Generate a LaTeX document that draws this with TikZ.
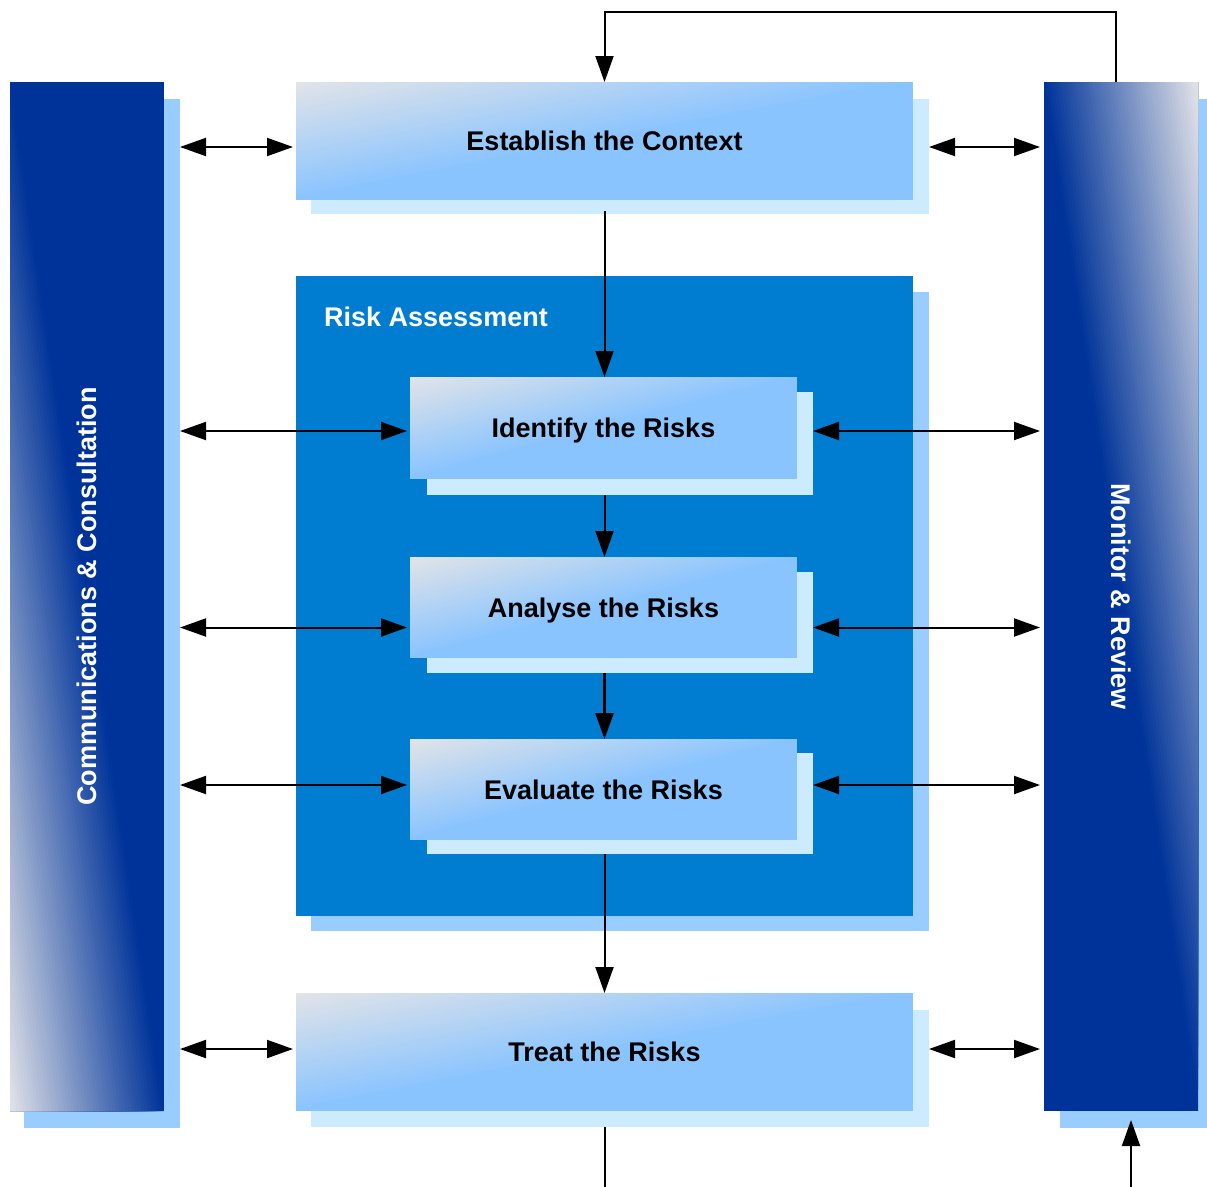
\documentclass[tikz,border=0pt]{standalone}
\usepackage{fontspec}
\setmainfont{Liberation Sans}
\usetikzlibrary{arrows.meta,calc}
\definecolor{navy}{HTML}{003399}
\definecolor{collight}{HTML}{E1E3E8}
\definecolor{boxlight}{HTML}{E2E4E8}
\definecolor{boxblue}{HTML}{89C4FF}
\definecolor{shadowpale}{HTML}{CCEBFF}
\definecolor{shadowblue}{HTML}{99CCFF}
\definecolor{rablue}{HTML}{007CD0}
\newcommand{\lblfont}{\fontsize{27}{32}\selectfont\bfseries}
% nested triangles from a light corner: #1,#2 corner; #3,#4 signed edge lengths; #5 light; #6 end colour
\newcommand{\gradcorner}[6]{%
  \foreach \k in {48,47,...,1}{%
    \pgfmathsetmacro{\gradT}{\k/48}%
    \pgfmathsetmacro{\gradP}{100*(\k-0.5)/48}%
    \fill[#6!\gradP!#5] (#1,#2) -- ++({\gradT*(#3)},0) -- ({#1},{#2+\gradT*(#4)}) -- cycle;
  }}
% gradient box: name, x0, ytop, W, H, text
\newcommand{\gbox}[6]{%
  \node[plainbox, minimum width=#4pt, minimum height=#5pt, fill=boxblue] (#1) at (#2,#3) {};
  \gradcorner{#2}{#3}{#4}{-#5}{boxlight}{boxblue}
  \node[font=\lblfont, text=black, inner sep=0pt, anchor=base] (#1-label) at ([yshift=-9.7pt]#1.center) {#6};
}
\begin{document}
\begin{tikzpicture}[x=1pt,y=1pt,
  >={Triangle[length=26pt,width=18pt]},
  conn/.style={line width=2pt, draw=black},
  plainbox/.style={rectangle, inner sep=0pt, outer sep=0pt, anchor=north west},
  shadowbox/.style 2 args={plainbox, minimum width=#1pt, minimum height=#2pt},
  coltext/.style={font=\lblfont, text=white, inner sep=0pt}
]
\useasboundingbox (0,0) rectangle (1207,-1186);

% Risk assessment container
\node[shadowbox={618}{639}, fill=shadowblue] (rash) at (311,-292) {};
\node[shadowbox={617}{640}, fill=rablue] (ra) at (296,-276) {};
\node[anchor=base west, font=\lblfont, text=white, inner sep=0pt] (ratext) at (324,-326) {Risk Assessment};

% inner boxes
\node[shadowbox={386}{103}, fill=shadowpale] (idsh) at (427,-392) {};
\gbox{id}{410}{-377}{387}{102}{Identify the Risks}
\node[shadowbox={386}{101}, fill=shadowpale] (ansh) at (427,-572) {};
\gbox{an}{410}{-557}{387}{101}{Analyse the Risks}
\node[shadowbox={386}{101}, fill=shadowpale] (evsh) at (427,-753) {};
\gbox{ev}{410}{-739}{387}{101}{Evaluate the Risks}

% big boxes
\node[shadowbox={618}{115}, fill=shadowpale] (estsh) at (311,-99) {};
\gbox{est}{296}{-82}{617}{118}{Establish the Context}
\node[shadowbox={618}{117}, fill=shadowpale] (trsh) at (311,-1010) {};
\gbox{tr}{296}{-993}{617}{118}{Treat the Risks}

% side columns
\node[shadowbox={156}{1029}, fill=shadowblue] (commsh) at (24,-99) {};
\node[shadowbox={154}{1029}, fill=navy] (comm) at (10,-82) {};
\gradcorner{10}{-1111}{154}{1029}{collight}{navy}
\node[coltext, rotate=90] (commtext) at (comm.center) {Communications \& Consultation};
\node[shadowbox={156}{1029}, fill=shadowblue] (monsh) at (1060,-99) {};
\node[shadowbox={154}{1029}, fill=navy] (mon) at (1044,-82) {};
\gradcorner{1198}{-82}{-154}{-1029}{collight}{navy}
\node[coltext, rotate=-90] (montext) at (mon.center) {Monitor \& Review};

% row helpers
\coordinate (rE) at (0,-147);
\coordinate (rI) at (0,-431);
\coordinate (rA) at (0,-627.5);
\coordinate (rV) at (0,-785);
\coordinate (rT) at (0,-1049);

% horizontal double arrows, left
\draw[conn,<->,shorten >=3pt] (commsh.east |- rE) -- (est.west |- rE);
\draw[conn,<->,shorten >=3pt] (commsh.east |- rI) -- (id.west |- rI);
\draw[conn,<->,shorten >=3pt] (commsh.east |- rA) -- (an.west |- rA);
\draw[conn,<->,shorten >=3pt] (commsh.east |- rV) -- (ev.west |- rV);
\draw[conn,<->,shorten >=3pt] (commsh.east |- rT) -- (tr.west |- rT);
% horizontal double arrows, right
\draw[conn,<->,shorten >=4pt] (estsh.east |- rE) -- (mon.west |- rE);
\draw[conn,<->,shorten >=4pt] (idsh.east |- rI) -- (mon.west |- rI);
\draw[conn,<->,shorten >=4pt] (ansh.east |- rA) -- (mon.west |- rA);
\draw[conn,<->,shorten >=4pt] (evsh.east |- rV) -- (mon.west |- rV);
\draw[conn,<->,shorten >=4pt] (trsh.east |- rT) -- (mon.west |- rT);

% vertical flow
\draw[conn,->] ([yshift=3pt]est.south |- estsh.south) -- (est.south |- id.north);
\draw[conn,->] (est.south |- idsh.south) -- (est.south |- an.north);
\draw[conn,->,line width=3pt] (est.south |- ansh.south) -- (est.south |- ev.north);
\draw[conn,->] (est.south |- evsh.south) -- (est.south |- tr.north);

% feedback loop
\draw[conn,->] ([xshift=-5.5pt]mon.north) -- ++(0,70) -| (est.north);
\coordinate (bend1) at (604.5,-1192);
\coordinate (bend2) at (1131,-1192);
\draw[conn] (tr.south |- trsh.south) -- (bend1);
\draw[conn,->,shorten >=9pt] (bend2) -- (bend2 |- mon.south);
\end{tikzpicture}
\end{document}
